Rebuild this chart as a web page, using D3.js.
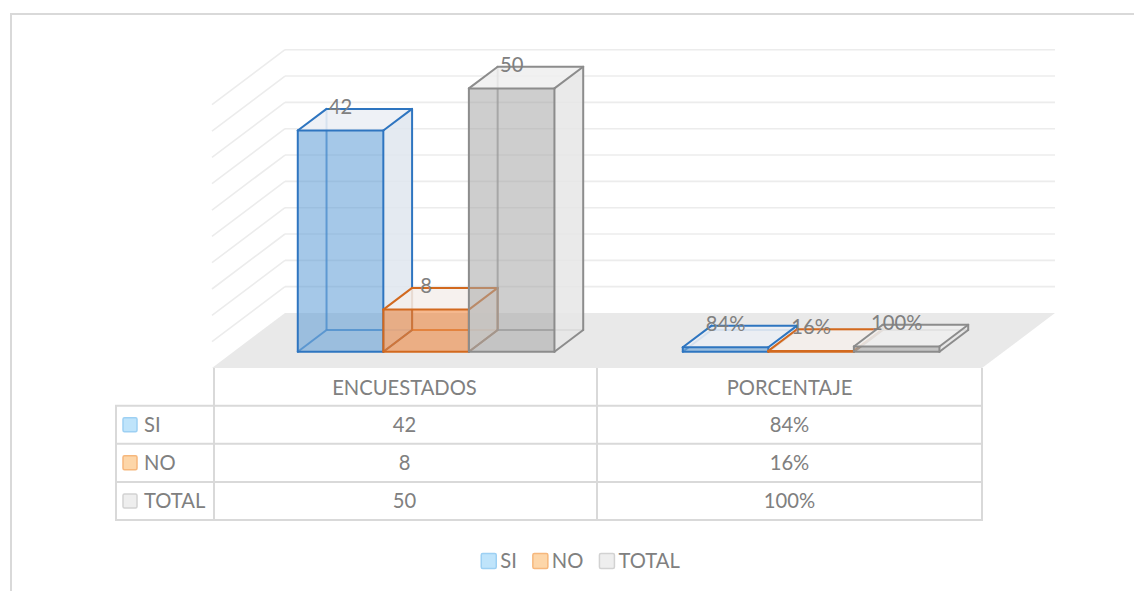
<!DOCTYPE html>
<html>
<head>
<meta charset="utf-8">
<script src="https://cdn.jsdelivr.net/npm/d3@7"></script>
<style>
  body { margin: 0; background: #fff; }
  svg { display: block; }
  text { font-family: Lato, "Open Sans", sans-serif; fill: #808080; }
</style>
</head>
<body>
<svg id="chart" width="1134" height="591"></svg>
<script>
//^^^^^^^^^^^^^^^^^^^^^^^^^^^^^^^^^^^^^^^^^^^^^^^^^^^^^^^^^^^^^^^^^^^^^^^^^^^^^^
// Data
//------------------------------------------------------------------------------
var categories = ["ENCUESTADOS", "PORCENTAJE"]
var series = ["SI", "NO", "TOTAL"]
var encuestados = [42, 8, 50]
var porcentaje = [0.84, 0.16, 1.00]
var encuestadosLabels = ["42", "8", "50"]
var porcentajeLabels = ["84%", "16%", "100%"]
var yTicks = [0, 5, 10, 15, 20, 25, 30, 35, 40, 45, 50]

var colors = {
  SI:    { front: "#5b9bd5", side: "#dfe6ee", top: "#ebeff4", edge: "#2e75c0", key: "#bfe4fb", keyEdge: "#9dd0f3" },
  NO:    { front: "#ed7d31", side: "#f1e7e1", top: "#f5efeb", edge: "#d2691e", key: "#fdd6a9", keyEdge: "#f6b77c" },
  TOTAL: { front: "#a5a5a5", side: "#e6e6e6", top: "#efefef", edge: "#8c8c8c", key: "#eeeeee", keyEdge: "#d2d2d2" }
}
var fontSize = 20.2

//^^^^^^^^^^^^^^^^^^^^^^^^^^^^^^^^^^^^^^^^^^^^^^^^^^^^^^^^^^^^^^^^^^^^^^^^^^^^^^
// Geometry of the 3D box (front plane + depth offset)
//------------------------------------------------------------------------------
var svg = d3.select("#chart")

var plot = { left: 212, right: 982, floor: 368, dx: 73, dy: 55 }
var barDepth = [0.296, 0.69]

var y = d3.scaleLinear().domain([0, 50]).range([0, 263.3])

var x = d3.scaleBand().domain(categories).range([plot.left, plot.right])
var xs = d3.scaleBand().domain(series).range([0, x.bandwidth()])
  .paddingInner(0).paddingOuter(0.75)

function proj(px, depth, v) {
  return [px + depth * plot.dx, plot.floor - depth * plot.dy - y(v)]
}

// outer chart border
svg.append("path")
  .attr("d", "M11,600 L11,14 L1200,14")
  .attr("fill", "none")
  .attr("stroke", "#d9d9d9")
  .attr("stroke-width", 2)

//^^^^^^^^^^^^^^^^^^^^^^^^^^^^^^^^^^^^^^^^^^^^^^^^^^^^^^^^^^^^^^^^^^^^^^^^^^^^^^
// Walls and floor
//------------------------------------------------------------------------------
var walls = svg.append("g")

walls.append("polygon")
  .attr("points", [proj(plot.left, 1, 0), proj(plot.right, 1, 0), proj(plot.right, 0, 0), proj(plot.left, 0, 0)].join(" "))
  .attr("fill", "#e9e9e9")

walls.selectAll("line.back")
  .data(yTicks.filter(function(t){ return t > 0 }))
  .enter().append("line")
  .attr("class", "back")
  .attr("x1", function(t){ return proj(plot.left, 1, t)[0] })
  .attr("y1", function(t){ return proj(plot.left, 1, t)[1] })
  .attr("x2", function(t){ return proj(plot.right, 1, t)[0] })
  .attr("y2", function(t){ return proj(plot.right, 1, t)[1] })
  .attr("stroke", "#ececec")
  .attr("stroke-width", 1.6)

walls.selectAll("line.side")
  .data(yTicks.filter(function(t){ return t > 0 }))
  .enter().append("line")
  .attr("class", "side")
  .attr("x1", function(t){ return proj(plot.left, 1, t)[0] })
  .attr("y1", function(t){ return proj(plot.left, 1, t)[1] })
  .attr("x2", function(t){ return proj(plot.left, 0, t)[0] })
  .attr("y2", function(t){ return proj(plot.left, 0, t)[1] })
  .attr("stroke", "#ececec")
  .attr("stroke-width", 1.6)

//^^^^^^^^^^^^^^^^^^^^^^^^^^^^^^^^^^^^^^^^^^^^^^^^^^^^^^^^^^^^^^^^^^^^^^^^^^^^^^
// Bars
//------------------------------------------------------------------------------
var bars = []
categories.forEach(function(c, ci){
  var vals = ci == 0 ? encuestados : porcentaje
  var labs = ci == 0 ? encuestadosLabels : porcentajeLabels
  series.forEach(function(s, si){
    bars.push({ cat: c, s: s, v: vals[si], label: labs[si] })
  })
})

function pts(list) { return list.map(function(p){ return p.join(",") }).join(" ") }

var barG = svg.append("g")

bars.forEach(function(b){
  var x0 = x(b.cat) + xs(b.s),
      x1 = x0 + xs.bandwidth(),
      d0 = barDepth[0], d1 = barDepth[1],
      col = colors[b.s],
      g = barG.append("g")

  var f00 = proj(x0, d0, 0), f10 = proj(x1, d0, 0), f01 = proj(x0, d0, b.v), f11 = proj(x1, d0, b.v),
      b00 = proj(x0, d1, 0), b10 = proj(x1, d1, 0), b01 = proj(x0, d1, b.v), b11 = proj(x1, d1, b.v)

  // hidden edges
  var hidden = [[b00, b10], [b00, b01], [f00, b00]]
  g.selectAll("line.hidden").data(hidden).enter().append("line")
    .attr("x1", function(e){ return e[0][0] }).attr("y1", function(e){ return e[0][1] })
    .attr("x2", function(e){ return e[1][0] }).attr("y2", function(e){ return e[1][1] })
    .attr("stroke", col.edge).attr("stroke-width", 2).attr("opacity", 0.75)

  // side and top faces
  g.append("polygon").attr("points", pts([f10, b10, b11, f11]))
    .attr("fill", col.side).attr("fill-opacity", 0.85)
  g.append("polygon").attr("points", pts([f01, f11, b11, b01]))
    .attr("fill", col.top).attr("fill-opacity", 0.85)

  // front face
  g.append("polygon").attr("points", pts([f00, f10, f11, f01]))
    .attr("fill", col.front).attr("fill-opacity", 0.55)

  // visible edges
  var visible = [[f00, f10], [f10, f11], [f11, f01], [f01, f00], [f10, b10], [b10, b11], [f11, b11], [b11, b01], [f01, b01]]
  g.selectAll("line.edge").data(visible).enter().append("line")
    .attr("x1", function(e){ return e[0][0] }).attr("y1", function(e){ return e[0][1] })
    .attr("x2", function(e){ return e[1][0] }).attr("y2", function(e){ return e[1][1] })
    .attr("stroke", col.edge).attr("stroke-width", 2).attr("stroke-linecap", "round")
})

// data labels
svg.append("g").selectAll("text")
  .data(bars)
  .enter().append("text")
  .attr("x", function(b){ return x(b.cat) + xs(b.s) + xs.bandwidth() / 2 + barDepth[0] * plot.dx })
  .attr("y", function(b){ return proj(0, barDepth[1], b.v)[1] - 2 })
  .attr("dy", "0.35em")
  .attr("text-anchor", "middle")
  .attr("font-size", fontSize)
  .text(function(b){ return b.label })

//^^^^^^^^^^^^^^^^^^^^^^^^^^^^^^^^^^^^^^^^^^^^^^^^^^^^^^^^^^^^^^^^^^^^^^^^^^^^^^
// Data table
//------------------------------------------------------------------------------
var table = svg.append("g")
var tLeft = 116, headTop = plot.floor, rowH = 38.1, headBottom = 405.7
var rowY = series.map(function(s, i){ return headBottom + i * rowH })
var tBottom = headBottom + series.length * rowH
var lineCol = "#d9d9d9"

table.selectAll("line.v")
  .data([x.range()[0] + 2, x("PORCENTAJE"), plot.right])
  .enter().append("line")
  .attr("x1", function(d){ return d }).attr("x2", function(d){ return d })
  .attr("y1", headTop).attr("y2", tBottom)
  .attr("stroke", lineCol).attr("stroke-width", 2)

table.append("line")
  .attr("x1", tLeft).attr("x2", tLeft)
  .attr("y1", headBottom).attr("y2", tBottom)
  .attr("stroke", lineCol).attr("stroke-width", 2)

table.selectAll("line.h")
  .data(rowY.concat([tBottom]))
  .enter().append("line")
  .attr("x1", tLeft - 1).attr("x2", plot.right + 1)
  .attr("y1", function(d){ return d }).attr("y2", function(d){ return d })
  .attr("stroke", lineCol).attr("stroke-width", 2)

table.selectAll("text.head")
  .data(categories)
  .enter().append("text")
  .attr("x", function(c){ return x(c) + x.bandwidth() / 2 })
  .attr("y", (headTop + headBottom) / 2 + 1)
  .attr("dy", "0.35em")
  .attr("text-anchor", "middle")
  .attr("font-size", fontSize)
  .text(function(c){ return c })

series.forEach(function(s, i){
  var cy = rowY[i] + rowH / 2
  table.append("rect")
    .attr("x", 123).attr("y", cy - 7)
    .attr("width", 14).attr("height", 14).attr("rx", 1.5)
    .attr("fill", colors[s].key).attr("stroke", colors[s].keyEdge).attr("stroke-width", 1.5)
  table.append("text")
    .attr("x", 144).attr("y", cy).attr("dy", "0.35em")
    .attr("font-size", fontSize)
    .text(s)
  table.append("text")
    .attr("x", x("ENCUESTADOS") + x.bandwidth() / 2).attr("y", cy).attr("dy", "0.35em")
    .attr("text-anchor", "middle").attr("font-size", fontSize)
    .text(encuestadosLabels[i])
  table.append("text")
    .attr("x", x("PORCENTAJE") + x.bandwidth() / 2).attr("y", cy).attr("dy", "0.35em")
    .attr("text-anchor", "middle").attr("font-size", fontSize)
    .text(porcentajeLabels[i])
})

//^^^^^^^^^^^^^^^^^^^^^^^^^^^^^^^^^^^^^^^^^^^^^^^^^^^^^^^^^^^^^^^^^^^^^^^^^^^^^^
// Legend
//------------------------------------------------------------------------------
var legend = svg.append("g")
var ly = 561, keySize = 15, keyGap = 4, itemGap = 16
var items = series.map(function(s){
  var t = legend.append("text").attr("font-size", fontSize).attr("y", ly).attr("dy", "0.35em").text(s)
  return { s: s, t: t, w: t.node().getComputedTextLength() }
})
var total = d3.sum(items, function(d){ return keySize + keyGap + d.w }) + itemGap * (items.length - 1)
var cx = 580.5 - total / 2
items.forEach(function(d){
  legend.append("rect")
    .attr("x", cx).attr("y", ly - keySize / 2)
    .attr("width", keySize).attr("height", keySize).attr("rx", 1.5)
    .attr("fill", colors[d.s].key).attr("stroke", colors[d.s].keyEdge).attr("stroke-width", 1.5)
  d.t.attr("x", cx + keySize + keyGap)
  cx += keySize + keyGap + d.w + itemGap
})
</script>
</body>
</html>
